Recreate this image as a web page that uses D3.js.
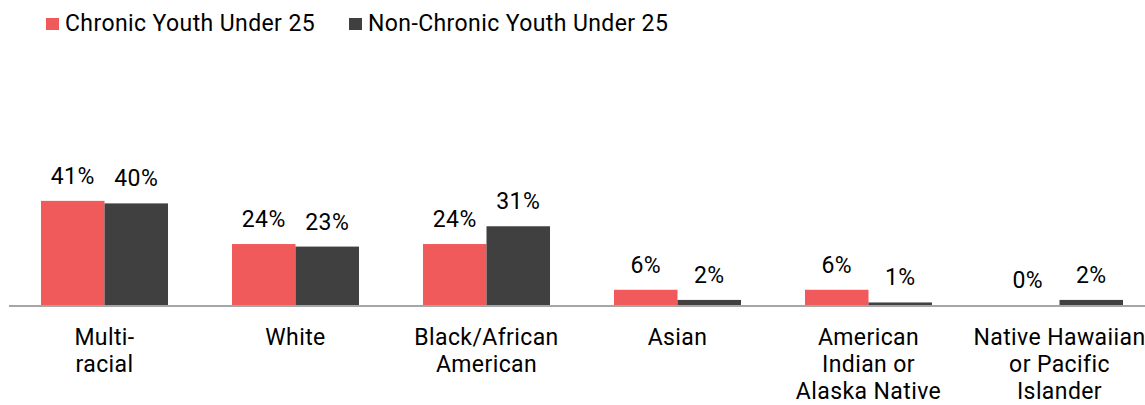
<!DOCTYPE html>
<html>
<head>
<meta charset="utf-8">
<script src="https://cdn.jsdelivr.net/npm/d3@7"></script>
<style>
  body { margin: 0; background: #fff; }
  text { font-family: Roboto, "Noto Sans", sans-serif; fill: #000; letter-spacing: 0.4px; }
</style>
</head>
<body>
<div id="chart"></div>
<script>
// data
var categories = [
  ["Multi-", "racial"],
  ["White"],
  ["Black/African", "American"],
  ["Asian"],
  ["American", "Indian or", "Alaska Native"],
  ["Native Hawaiian", "or Pacific", "Islander"]
];
var seriesNames = ["Chronic Youth Under 25", "Non-Chronic Youth Under 25"];
var chronic = [41, 24, 24, 6, 6, 0];
var nonChronic = [40, 23, 31, 2, 1, 2];
var colors = ["#F05A5B", "#404040"];

var width = 1145, height = 405;
var baseY = 305;
var fontSize = 23;

var svg = d3.select("#chart").append("svg")
  .attr("width", width)
  .attr("height", height);

// scales
var x0 = d3.scaleBand()
  .domain(d3.range(categories.length))
  .range([9, 9 + 191 * 6])
  .paddingInner(0.335)
  .paddingOuter(0.335 / 2);

var x1 = d3.scaleBand()
  .domain([0, 1])
  .range([0, x0.bandwidth()]);

var y = d3.scaleLinear()
  .domain([0, 50])
  .range([baseY, baseY - 127]);

var rows = categories.map(function(c, i) {
  return { i: i, vals: [chronic[i], nonChronic[i]] };
});

// bars
var group = svg.selectAll(".grp")
  .data(rows)
  .enter().append("g")
  .attr("class", "grp")
  .attr("transform", function(d) { return "translate(" + x0(d.i) + ",0)"; });

group.selectAll("rect")
  .data(function(d) { return d.vals.map(function(v, k) { return { k: k, v: v }; }); })
  .enter().append("rect")
  .attr("x", function(d) { return x1(d.k); })
  .attr("y", function(d) { return y(d.v); })
  .attr("width", x1.bandwidth())
  .attr("height", function(d) { return baseY - y(d.v); })
  .style("fill", function(d) { return colors[d.k]; });

// value labels
group.selectAll("text.val")
  .data(function(d) { return d.vals.map(function(v, k) { return { k: k, v: v }; }); })
  .enter().append("text")
  .attr("class", "val")
  .attr("x", function(d) { return x1(d.k) + x1.bandwidth() / 2; })
  .attr("y", function(d) { return y(d.v) - 17; })
  .attr("text-anchor", "middle")
  .style("font-size", fontSize + "px")
  .text(function(d) { return d.v + "%"; });

// axis line
svg.append("line")
  .attr("x1", 9)
  .attr("x2", width)
  .attr("y1", baseY + 1)
  .attr("y2", baseY + 1)
  .style("stroke", "#A6A6A6")
  .style("stroke-width", 2);

// category labels
var cat = svg.selectAll(".cat")
  .data(categories)
  .enter().append("text")
  .attr("class", "cat")
  .attr("text-anchor", "middle")
  .attr("x", function(d, i) { return x0(i) + x0.bandwidth() / 2; })
  .attr("y", 345)
  .style("font-size", fontSize + "px");

cat.selectAll("tspan")
  .data(function(d) { return d; })
  .enter().append("tspan")
  .attr("x", function() { return d3.select(this.parentNode).attr("x"); })
  .attr("dy", function(d, j) { return j === 0 ? 0 : 27; })
  .text(function(d) { return d; });

// legend
var legX = [46, 349];
var leg = svg.selectAll(".leg")
  .data(seriesNames)
  .enter().append("g")
  .attr("class", "leg")
  .attr("transform", function(d, i) { return "translate(" + legX[i] + ",0)"; });

leg.append("rect")
  .attr("x", 0)
  .attr("y", 18)
  .attr("width", 13)
  .attr("height", 12)
  .style("fill", function(d, i) { return colors[i]; });

leg.append("text")
  .attr("x", 19)
  .attr("y", 31)
  .style("font-size", fontSize + "px")
  .text(function(d) { return d; });
</script>
</body>
</html>
